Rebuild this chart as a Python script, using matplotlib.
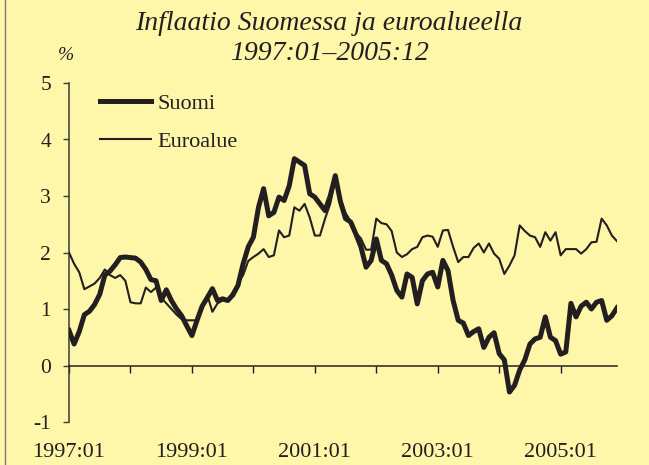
import matplotlib
matplotlib.use("Agg")
import matplotlib.pyplot as plt
from matplotlib.lines import Line2D

# ---- data ----
title_lines = ["Inflaatio Suomessa ja euroalueella", "1997:01\u20132005:12"]
unit_label = "%"
series_names = ["Suomi", "Euroalue"]
tick_labels = ["1997:01", "1999:01", "2001:01", "2003:01", "2005:01"]
y_ticks = [-1, 0, 1, 2, 3, 4, 5]

suomi = [
    0.62, 0.38, 0.60, 0.90, 0.96, 1.08, 1.26, 1.60, 1.67, 1.78, 1.91, 1.92,   # 1997
    1.91, 1.90, 1.83, 1.70, 1.52, 1.50, 1.15, 1.34, 1.15, 1.00, 0.88, 0.70,   # 1998
    0.53, 0.80, 1.05, 1.20, 1.36, 1.15, 1.18, 1.15, 1.25, 1.42, 1.80, 2.10,   # 1999
    2.27, 2.80, 3.13, 2.65, 2.71, 2.98, 2.92, 3.18, 3.66, 3.60, 3.54, 3.04,   # 2000
    2.98, 2.86, 2.74, 3.00, 3.36, 2.90, 2.60, 2.54, 2.33, 2.10, 1.74, 1.86,   # 2001
    2.24, 1.86, 1.80, 1.60, 1.33, 1.21, 1.62, 1.56, 1.09, 1.50, 1.62, 1.65,   # 2002
    1.39, 1.86, 1.68, 1.15, 0.80, 0.75, 0.53, 0.60, 0.65, 0.32, 0.50, 0.58,   # 2003
    0.21, 0.10, -0.47, -0.35, -0.08, 0.10, 0.38, 0.47, 0.50, 0.86, 0.50, 0.44, # 2004
    0.20, 0.24, 1.10, 0.86, 1.05, 1.12, 1.00, 1.12, 1.15, 0.80, 0.88, 1.02,   # 2005
]
euroalue = [
    2.00, 1.80, 1.65, 1.35, 1.40, 1.45, 1.55, 1.70, 1.60, 1.55, 1.60, 1.50,   # 1997
    1.12, 1.10, 1.10, 1.38, 1.30, 1.38, 1.20, 1.10, 1.00, 0.90, 0.82, 0.80,   # 1998
    0.80, 0.80, 1.00, 1.25, 0.95, 1.10, 1.15, 1.15, 1.30, 1.45, 1.60, 1.85,   # 1999
    1.92, 1.98, 2.06, 1.92, 1.95, 2.39, 2.27, 2.30, 2.80, 2.74, 2.86, 2.62,   # 2000
    2.30, 2.30, 2.60, 2.86, 3.30, 2.95, 2.70, 2.55, 2.35, 2.25, 2.05, 2.05,   # 2001
    2.60, 2.52, 2.50, 2.38, 2.00, 1.92, 1.97, 2.06, 2.10, 2.27, 2.30, 2.28,   # 2002
    2.10, 2.39, 2.40, 2.10, 1.83, 1.92, 1.92, 2.08, 2.16, 2.00, 2.16, 1.98,   # 2003
    1.89, 1.62, 1.77, 1.95, 2.48, 2.38, 2.30, 2.27, 2.10, 2.36, 2.21, 2.36,   # 2004
    1.95, 2.06, 2.06, 2.06, 1.98, 2.06, 2.18, 2.19, 2.60, 2.48, 2.30, 2.20,   # 2005
]
months = list(range(len(suomi)))

# ---- style ----
BG = "#FEF6A9"
INK = "#231F20"
SERIF = ["Liberation Serif", "DejaVu Serif"]

plt.rcParams["font.family"] = SERIF
fig = plt.figure(figsize=(6.49, 4.65), dpi=100, facecolor=BG)
W, H = 649, 465
ax = fig.add_axes([69 / W, (H - 422) / H, (617 - 69) / W, (422 - 83) / H])
ax.set_facecolor(BG)

ax.plot(months, euroalue, color=INK, lw=1.5, solid_joinstyle="round", label=series_names[1], zorder=3)
ax.plot(months, suomi, color=INK, lw=3.6, solid_joinstyle="round", label=series_names[0], zorder=4)

ax.set_xlim(0, len(months) - 1)
ax.set_ylim(-1, 5)

for s in ["top", "right"]:
    ax.spines[s].set_visible(False)
ax.spines["bottom"].set_position(("data", 0))
ax.spines["left"].set_color("#3a3a3a")
ax.spines["bottom"].set_color(INK)
ax.spines["left"].set_linewidth(1.1)
ax.spines["bottom"].set_linewidth(1.1)

ax.set_yticks(y_ticks)
ax.set_yticklabels([str(v) for v in y_ticks])
ax.tick_params(axis="y", direction="out", length=4, width=1.0, color="#3a3a3a",
               labelsize=15.5, labelcolor=INK, pad=9)

major = list(range(0, len(months), 24))
minor = list(range(12, len(months), 24))
ax.set_xticks(major)
ax.set_xticklabels(tick_labels)
ax.set_xticks(minor, minor=True)
ax.tick_params(axis="x", which="both", direction="out", length=5, width=1.0, color=INK)
ax.tick_params(axis="x", which="major", labelsize=16, labelcolor=INK, pad=51)

leg = ax.legend(handles=[Line2D([], [], color=INK, lw=3.6), Line2D([], [], color=INK, lw=1.5)],
                labels=series_names, loc="upper left",
                bbox_to_anchor=(100 / W, (H - 93) / H), bbox_transform=fig.transFigure,
                frameon=False, fontsize=16, handlelength=2.3, handletextpad=0.3,
                labelspacing=0.8, borderpad=0, borderaxespad=0)
for t in leg.get_texts():
    t.set_color(INK)

fig.text(329 / W, (H - 24) / H, title_lines[0], ha="center", va="center",
         fontsize=20, style="italic", color=INK)
fig.text(329 / W, (H - 54) / H, title_lines[1], ha="center", va="center",
         fontsize=20, style="italic", color=INK)
fig.text(66 / W, (H - 55) / H, unit_label, ha="center", va="center",
         fontsize=14, style="italic", color=INK)

fig.add_artist(Line2D([4.5 / W, 4.5 / W], [0, 1], transform=fig.transFigure,
                      color="#7a7a7a", lw=1.0))

fig.savefig("out.png", dpi=100, facecolor=BG)
